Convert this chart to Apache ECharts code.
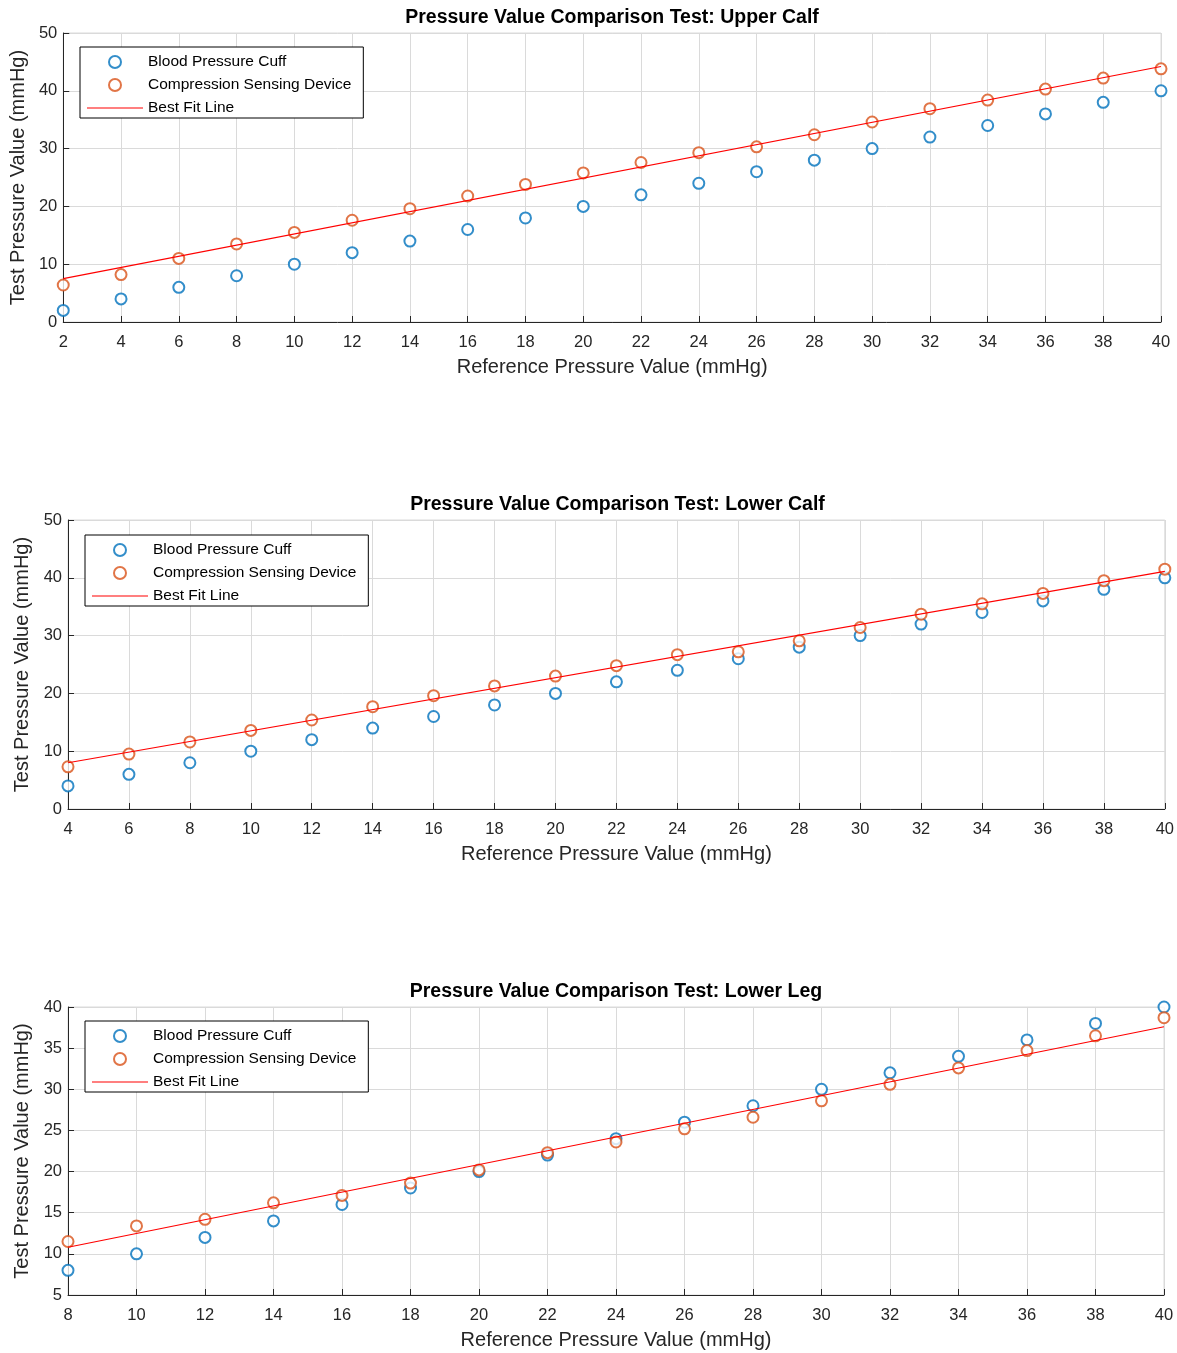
<!DOCTYPE html>
<html>
<head>
    <meta charset="utf-8">
    <title>Pressure Value Comparison Test</title>
    <script src="https://cdnjs.cloudflare.com/ajax/libs/echarts/6.0.0/echarts.min.js"></script>
    <style>
        html, body { margin: 0; padding: 0; background: #fff; }
        #main { width: 1177px; height: 1353px; }
    </style>
</head>
<body>
<div id="main"></div>
<script>
    // reference pressure (x) for each test
    var refUpper = [2, 4, 6, 8, 10, 12, 14, 16, 18, 20, 22, 24, 26, 28, 30, 32, 34, 36, 38, 40];
    var refLowerCalf = [4, 6, 8, 10, 12, 14, 16, 18, 20, 22, 24, 26, 28, 30, 32, 34, 36, 38, 40];
    var refLowerLeg = [8, 10, 12, 14, 16, 18, 20, 22, 24, 26, 28, 30, 32, 34, 36, 38, 40];

    // blood pressure cuff readings
    var cuffUpper = [2, 4, 6, 8, 10, 12, 14, 16, 18, 20, 22, 24, 26, 28, 30, 32, 34, 36, 38, 40];
    var cuffLowerCalf = [4, 6, 8, 10, 12, 14, 16, 18, 20, 22, 24, 26, 28, 30, 32, 34, 36, 38, 40];
    var cuffLowerLeg = [8, 10, 12, 14, 16, 18, 20, 22, 24, 26, 28, 30, 32, 34, 36, 38, 40];

    // compression sensing device readings
    var deviceUpper = [6.4, 8.2, 11.0, 13.5, 15.5, 17.6, 19.6, 21.8, 23.8, 25.8, 27.6, 29.3, 30.3, 32.4, 34.6, 36.9, 38.4, 40.3, 42.2, 43.8];
    var deviceLowerCalf = [7.3, 9.5, 11.6, 13.6, 15.4, 17.7, 19.6, 21.3, 23.0, 24.8, 26.7, 27.2, 29.1, 31.4, 33.7, 35.5, 37.3, 39.5, 41.5];
    var deviceLowerLeg = [11.5, 13.4, 14.2, 16.2, 17.1, 18.6, 20.2, 22.3, 23.6, 25.2, 26.6, 28.6, 30.6, 32.6, 34.7, 36.5, 38.7];

    // best fit line values at first and last reference value
    var fitUpper = [7.5, 44.2];
    var fitLowerCalf = [8.0, 41.1];
    var fitLowerLeg = [10.8, 37.6];

    var titles = [
        'Pressure Value Comparison Test: Upper Calf',
        'Pressure Value Comparison Test: Lower Calf',
        'Pressure Value Comparison Test: Lower Leg'
    ];
    var legendNames = ['Blood Pressure Cuff', 'Compression Sensing Device', 'Best Fit Line'];

    var FONT = 'Liberation Sans, Arial, Helvetica, sans-serif';
    var AXIS_COLOR = '#262626';
    var GRID_COLOR = '#dadada';

    var panels = [
        { x: refUpper, cuff: cuffUpper, dev: deviceUpper, fit: fitUpper, xmin: 2, xmax: 40, ymin: 0, ymax: 50, yint: 10,
          left: 63, right: 1161, top: 33, bottom: 322, legendLeft: 80, legendTop: 47 },
        { x: refLowerCalf, cuff: cuffLowerCalf, dev: deviceLowerCalf, fit: fitLowerCalf, xmin: 4, xmax: 40, ymin: 0, ymax: 50, yint: 10,
          left: 68, right: 1167, top: 520, bottom: 809, legendLeft: 85, legendTop: 535 },
        { x: refLowerLeg, cuff: cuffLowerLeg, dev: deviceLowerLeg, fit: fitLowerLeg, xmin: 8, xmax: 40, ymin: 5, ymax: 40, yint: 5,
          left: 68, right: 1164, top: 1007, bottom: 1295, legendLeft: 85, legendTop: 1021 }
    ];

    var W = 1177, H = 1353;
    var grid = [], xAxis = [], yAxis = [], series = [], title = [], legend = [];

    panels.forEach(function (p, i) {
        grid.push({
            left: p.left, top: p.top,
            width: p.right - p.left, height: p.bottom - p.top,
            show: true, borderColor: GRID_COLOR, borderWidth: 1, backgroundColor: '#fff'
        });
        title.push({
            text: titles[i],
            left: (p.left + p.right) / 2,
            top: p.top - 25,
            textAlign: 'center',
            padding: 0,
            textStyle: { fontFamily: FONT, fontSize: 19.5, fontWeight: 'bold', color: '#000' }
        });
        xAxis.push({
            type: 'value', gridIndex: i,
            min: p.xmin, max: p.xmax, interval: 2,
            name: 'Reference Pressure Value (mmHg)',
            nameLocation: 'middle', nameGap: 35,
            nameTextStyle: { fontFamily: FONT, fontSize: 20, color: AXIS_COLOR },
            axisLine: { show: true, onZero: false, lineStyle: { color: AXIS_COLOR, width: 1 } },
            axisTick: { show: true, inside: true, length: 6, lineStyle: { color: AXIS_COLOR } },
            axisLabel: { fontFamily: FONT, fontSize: 16.5, color: AXIS_COLOR, margin: 12 },
            splitLine: { show: true, lineStyle: { color: GRID_COLOR, width: 1 } }
        });
        yAxis.push({
            type: 'value', gridIndex: i,
            min: p.ymin, max: p.ymax, interval: p.yint,
            name: 'Test Pressure Value (mmHg)',
            nameLocation: 'middle', nameGap: 33,
            nameTextStyle: { fontFamily: FONT, fontSize: 20, color: AXIS_COLOR },
            axisLine: { show: true, onZero: false, lineStyle: { color: AXIS_COLOR, width: 1 } },
            axisTick: { show: true, inside: true, length: 6, lineStyle: { color: AXIS_COLOR } },
            axisLabel: { fontFamily: FONT, fontSize: 16.5, color: AXIS_COLOR, margin: 6 },
            splitLine: { show: true, lineStyle: { color: GRID_COLOR, width: 1 } }
        });
        series.push({
            name: legendNames[0], type: 'scatter',
            xAxisIndex: i, yAxisIndex: i,
            symbol: 'emptyCircle', symbolSize: 11,
            itemStyle: { color: '#0072BD', borderWidth: 1.2 },
            data: p.x.map(function (v, k) { return [v, p.cuff[k]]; })
        });
        series.push({
            name: legendNames[1], type: 'scatter',
            xAxisIndex: i, yAxisIndex: i,
            symbol: 'emptyCircle', symbolSize: 11,
            itemStyle: { color: '#D95319', borderWidth: 1.2 },
            data: p.x.map(function (v, k) { return [v, p.dev[k]]; })
        });
        series.push({
            name: legendNames[2], type: 'line',
            xAxisIndex: i, yAxisIndex: i,
            symbol: 'none', showSymbol: false,
            lineStyle: { color: '#ff0000', width: 1.2 },
            itemStyle: { color: '#ff0000' },
            data: [[p.x[0], p.fit[0]], [p.x[p.x.length - 1], p.fit[1]]],
            z: 3
        });
        legend.push({
            orient: 'vertical',
            left: p.legendLeft, top: p.legendTop,
            data: [
                legendNames[0],
                legendNames[1],
                { name: legendNames[2], icon: 'path://M0,0H56V1.2H0Z', itemStyle: { color: '#ff0000' } }
            ],
            selectedMode: false,
            itemWidth: 56, itemHeight: 12, itemGap: 7,
            padding: [7, 12, 2, 7],
            backgroundColor: '#fff', borderColor: '#000', borderWidth: 1, borderRadius: 0,
            textStyle: { fontFamily: FONT, fontSize: 15.5, color: '#000' }
        });
    });

    var myChart = echarts.init(document.getElementById('main'), null, { width: W, height: H });
    myChart.setOption({
        backgroundColor: '#fff',
        animation: false,
        title: title,
        legend: legend,
        grid: grid,
        xAxis: xAxis,
        yAxis: yAxis,
        series: series
    });
</script>
</body>
</html>
